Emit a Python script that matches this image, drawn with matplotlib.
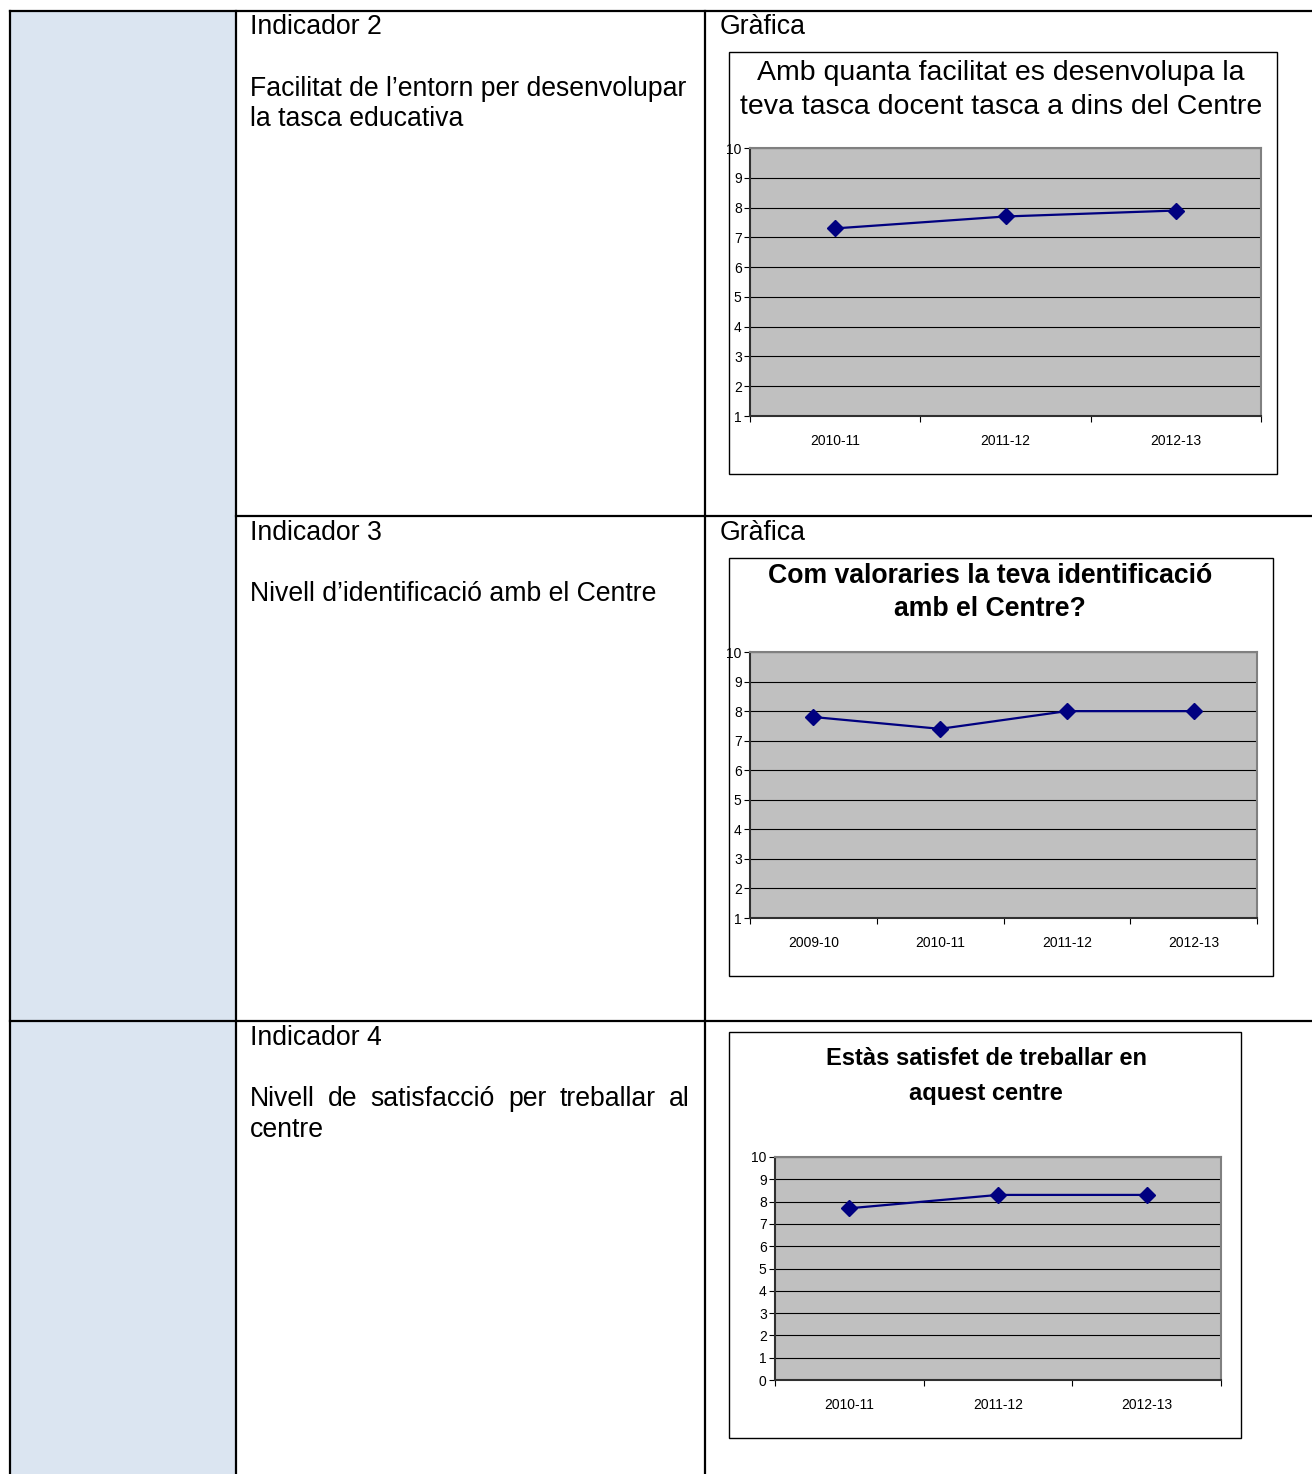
import matplotlib
matplotlib.use("Agg")
import matplotlib.pyplot as plt
from matplotlib.patches import Rectangle

plt.rcParams['font.family'] = ['Liberation Sans', 'DejaVu Sans']

# chart data
cursos_1 = ['2010-11', '2011-12', '2012-13']
facilitat = [7.3, 7.7, 7.9]

cursos_2 = ['2009-10', '2010-11', '2011-12', '2012-13']
identificacio = [7.8, 7.4, 8.0, 8.0]

cursos_3 = ['2010-11', '2011-12', '2012-13']
satisfaccio = [7.7, 8.3, 8.3]

W, H = 1312, 1474
fig = plt.figure(figsize=(W / 100, H / 100), dpi=100)

# background axes in pixel units for the table
bg = fig.add_axes([0, 0, 1, 1])
bg.set_xlim(0, W)
bg.set_ylim(H, 0)
bg.axis('off')

LW = 1.6
bg.add_patch(Rectangle((10, 11), 226, H - 11, facecolor='#DBE5F1', edgecolor='none', zorder=0))
bg.plot([10, W], [11, 11], color='black', lw=LW)
bg.plot([10, 10], [11, H], color='black', lw=LW)
bg.plot([236, 236], [11, H], color='black', lw=LW)
bg.plot([705, 705], [11, H], color='black', lw=LW)
bg.plot([236, W], [516, 516], color='black', lw=LW)
bg.plot([10, W], [1021, 1021], color='black', lw=LW)

TXT = 19.2
bg.text(250, 27, 'Indicador 2', fontsize=TXT, va='center')
bg.text(250, 89, 'Facilitat de l\u2019entorn per desenvolupar', fontsize=TXT, va='center')
bg.text(250, 119, 'la tasca educativa', fontsize=TXT, va='center')
bg.text(720, 27, 'Gràfica', fontsize=TXT, va='center')

bg.text(250, 533, 'Indicador 3', fontsize=TXT, va='center')
bg.text(250, 594, 'Nivell d\u2019identificació amb el Centre', fontsize=TXT, va='center')
bg.text(720, 533, 'Gràfica', fontsize=TXT, va='center')

bg.text(250, 1038, 'Indicador 4', fontsize=TXT, va='center')
bg.text(250, 1130, 'centre', fontsize=TXT, va='center')

# justified line in the third row
words = 'Nivell de satisfacció per treballar al'.split()
renderer = fig.canvas.get_renderer()
parts = [bg.text(0, 1099, w, fontsize=TXT, va='center') for w in words]
widths = [p.get_window_extent(renderer).width for p in parts]
gap = (690 - 250 - sum(widths)) / (len(words) - 1)
x = 250
for p, w in zip(parts, widths):
    p.set_x(x)
    x += w + gap


def chart(frame, plot, title, tfs, tweight, tls, tcenter, cats, vals, ymin):
    fx0, fy0, fx1, fy1 = frame
    bg.add_patch(Rectangle((fx0, fy0), fx1 - fx0, fy1 - fy0, facecolor='white',
                           edgecolor='black', lw=1.0, zorder=2))
    bg.text(tcenter[0], tcenter[1], title, fontsize=tfs, fontweight=tweight,
            ha='center', va='center', linespacing=tls, zorder=3)
    px0, py0, px1, py1 = plot
    ax = fig.add_axes([px0 / W, 1 - py1 / H, (px1 - px0) / W, (py1 - py0) / H])
    ax.set_facecolor('#C0C0C0')
    n = len(cats)
    ax.set_xlim(-0.5, n - 0.5)
    ax.set_ylim(ymin, 10)
    ax.set_yticks(range(ymin, 11))
    ax.set_yticklabels([str(v) for v in range(ymin, 11)], fontsize=10)
    ax.set_xticks([i - 0.5 for i in range(n + 1)])
    ax.set_xticklabels([])
    ax.set_xticks(range(n), minor=True)
    ax.set_xticklabels(cats, minor=True, fontsize=10)
    ax.tick_params(axis='x', which='minor', length=0, pad=13)
    ax.tick_params(axis='x', which='major', length=4, direction='out', color='black')
    ax.tick_params(axis='y', length=4, direction='out', pad=2, color='black')
    ax.grid(axis='y', color='black', lw=0.8)
    ax.set_axisbelow(True)
    for s in ['top', 'right']:
        ax.spines[s].set_color('#808080')
        ax.spines[s].set_linewidth(1.5)
    for s in ['left', 'bottom']:
        ax.spines[s].set_color('#303030')
        ax.spines[s].set_linewidth(1.5)
    ax.plot(range(n), vals, color='#000080', lw=1.6, marker='D', markersize=8,
            markerfacecolor='#000080', markeredgecolor='#000080', clip_on=False, zorder=5)
    return ax


chart((729, 52, 1277, 474), (750, 148, 1261, 416),
      'Amb quanta facilitat es desenvolupa la\nteva tasca docent tasca a dins del Centre',
      20.5, 'normal', 1.38, (1001, 90), cursos_1, facilitat, 1)

chart((729, 558, 1273, 976), (750, 652, 1257, 918),
      'Com valoraries la teva identificació\namb el Centre?',
      19.2, 'bold', 1.35, (990, 592), cursos_2, identificacio, 1)

chart((729, 1032, 1241, 1438), (775, 1157, 1221, 1380),
      'Estàs satisfet de treballar en\naquest centre',
      17, 'bold', 1.62, (986, 1076), cursos_3, satisfaccio, 0)

fig.savefig('out.png', dpi=100)
